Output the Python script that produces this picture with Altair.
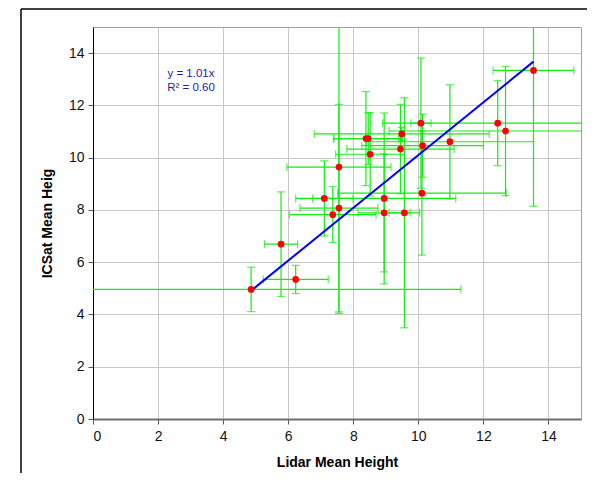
import altair as alt
import pandas as pd

# ---- data ----
lidar = [4.86, 5.78, 6.23, 7.11, 7.37, 7.56, 7.56, 8.39, 8.46, 8.52, 8.95,
         8.95, 9.57, 9.45, 9.49, 10.08, 10.13, 10.11, 10.97, 12.44, 12.68, 13.54]
icesat = [4.96, 6.69, 5.34, 8.44, 7.82, 8.07, 9.64, 10.73, 10.73, 10.13, 8.44,
          7.89, 7.89, 10.33, 10.91, 11.32, 10.46, 8.64, 10.61, 11.32, 11.02, 13.34]
lidar_err = [6.45, 0.51, 1.00, 0.88, 1.33, 1.20, 1.60, 1.00, 1.05, 1.06, 2.20,
             0.80, 0.47, 1.65, 2.69, 0.31, 1.87, 2.59, 2.57, 3.54, 3.58, 1.24]
icesat_err = [0.85, 2.00, 0.54, 1.44, 1.07, 3.97, 5.60, 1.80, 0.99, 1.59, 3.27,
              2.26, 4.40, 1.71, 0.25, 2.49, 1.21, 2.37, 2.18, 1.63, 2.47, 5.20]
slope = 1.01
eq_lines = ["y = 1.01x", "R\u00b2 = 0.60"]
tick_vals = [0, 2, 4, 6, 8, 10, 12, 14]
x_title = "Lidar Mean Height"
y_title = "ICSat Mean Heig"

df = pd.DataFrame({"lidar": lidar, "icesat": icesat,
                   "xerr": lidar_err, "yerr": icesat_err})
df["xlo"] = df.lidar - df.xerr
df["xhi"] = df.lidar + df.xerr
df["ylo"] = df.icesat - df.yerr
df["yhi"] = df.icesat + df.yerr

fit = pd.DataFrame({"lidar": [min(lidar), max(lidar)]})
fit["icesat"] = slope * fit.lidar

xs = alt.Scale(domain=[0, 15], nice=False, zero=False)
ys = alt.Scale(domain=[0, 15], nice=False, zero=False)
xaxis = alt.Axis(values=tick_vals, title=x_title, domainColor="#707070",
                 domainWidth=2, labelPadding=5, titlePadding=12)
yaxis = alt.Axis(values=tick_vals, title=y_title, domainColor="#000000",
                 domainWidth=1, labelPadding=4, titlePadding=14)


def X(field):
    return alt.X(field, type="quantitative", scale=xs, axis=xaxis)


def Y(field):
    return alt.Y(field, type="quantitative", scale=ys, axis=yaxis)


green = "#11ee11"
base = alt.Chart(df)

xbars = base.mark_rule(color=green, strokeWidth=1.2, clip=True).encode(
    x=X("xlo"), x2="xhi", y=Y("icesat"))
ybars = base.mark_rule(color=green, strokeWidth=1.2, clip=True).encode(
    x=X("lidar"), y=Y("ylo"), y2="yhi")
xcap_lo = base.mark_tick(color=green, orient="vertical", size=8, thickness=1.2,
                         clip=True).encode(x=X("xlo"), y=Y("icesat"))
xcap_hi = base.mark_tick(color=green, orient="vertical", size=8, thickness=1.2,
                         clip=True).encode(x=X("xhi"), y=Y("icesat"))
ycap_lo = base.mark_tick(color=green, orient="horizontal", size=8, thickness=1.2,
                         clip=True).encode(x=X("lidar"), y=Y("ylo"))
ycap_hi = base.mark_tick(color=green, orient="horizontal", size=8, thickness=1.2,
                         clip=True).encode(x=X("lidar"), y=Y("yhi"))

line = alt.Chart(fit).mark_line(color="#0000ff", strokeWidth=2).encode(
    x=X("lidar"), y=Y("icesat"))

points = base.mark_circle(color="#ff0000", size=45, opacity=1).encode(
    x=X("lidar"), y=Y("icesat"))

one = pd.DataFrame({"a": [0]})
label = alt.Chart(one).mark_text(
    align="center", baseline="alphabetic", font="Liberation Sans",
    fontSize=11.5, lineHeight=14, color="#1c1c9c").encode(
    x=alt.value(98), y=alt.value(50), text=alt.value(eq_lines))

frame_top = alt.Chart(one).mark_rule(color="#000000", strokeWidth=1.5).encode(
    x=alt.value(-72), x2=alt.value(600), y=alt.value(-18))
frame_left = alt.Chart(one).mark_rule(color="#000000", strokeWidth=1.5).encode(
    x=alt.value(-72), y=alt.value(-18), y2=alt.value(600))

chart = alt.layer(
    frame_top, frame_left,
    xbars, ybars, xcap_lo, xcap_hi, ycap_lo, ycap_hi,
    line, points, label
).properties(
    width=488, height=392,
    background="#ffffff",
    autosize=alt.AutoSizeParams(type="none"),
    padding={"left": 85, "top": 19, "right": 6, "bottom": 54},
).configure_view(
    stroke="#a0a0a0", strokeWidth=1
).configure_axis(
    gridColor="#c8c8c8", gridWidth=1,
    labelFont="Liberation Sans", labelFontSize=14, labelColor="#111111",
    titleFont="Liberation Sans", titleFontSize=14, titleFontWeight="bold",
    titleColor="#000000", tickColor="#555555", tickSize=5
)

chart.save("out.html", embed_options={"renderer": "svg", "actions": False})
